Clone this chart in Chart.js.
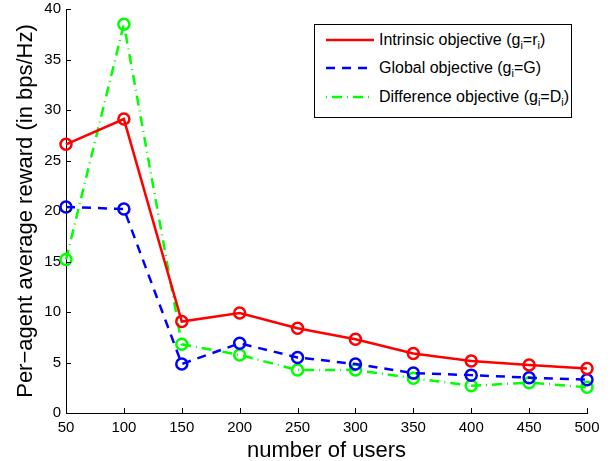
<!DOCTYPE html>
<html>
<head>
<meta charset="utf-8">
<script src="https://cdn.jsdelivr.net/npm/chart.js@4.4.1/dist/chart.umd.min.js"></script>
<style>
  html, body { margin: 0; padding: 0; background: #fff; }
  #wrap { position: relative; width: 613px; height: 461px; }
  #legend {
    position: absolute; left: 314px; top: 24px; width: 258px; height: 94px;
    border: 1px solid #000; background: #fff; box-sizing: border-box;
    font-family: "Liberation Sans", Arial, sans-serif; font-size: 16px; color: #000;
  }
  .row { position: absolute; left: 0; height: 20px; line-height: 20px; white-space: nowrap; }
  .row svg { position: absolute; left: 10px; top: 6px; }
  .row span { position: absolute; left: 64px; top: 0; }
  sub { font-size: 11px; vertical-align: -4px; line-height: 0; }
</style>
</head>
<body>
<div id="wrap">
  <canvas id="chart" width="613" height="461"></canvas>
  <div id="legend">
    <div class="row" style="top:5px">
      <svg width="50" height="8"><line x1="1" y1="4" x2="49" y2="4" stroke="#ff0000" stroke-width="2.5"/></svg>
      <span>Intrinsic objective (g<sub>i</sub>=r<sub>i</sub>)</span>
    </div>
    <div class="row" style="top:33px">
      <svg width="50" height="8"><line x1="1" y1="4" x2="49" y2="4" stroke="#0000ff" stroke-width="2.5" stroke-dasharray="9,7"/></svg>
      <span>Global objective (g<sub>i</sub>=G)</span>
    </div>
    <div class="row" style="top:62px">
      <svg width="50" height="8"><line x1="1" y1="4" x2="49" y2="4" stroke="#00ff00" stroke-width="2.5" stroke-dasharray="1,5,10,5"/></svg>
      <span>Difference objective (g<sub>i</sub>=D<sub>i</sub>)</span>
    </div>
  </div>
</div>
<script>
// number of users
const users = [50, 100, 150, 200, 250, 300, 350, 400, 450, 500];

// per-agent average reward (bps/Hz)
const intrinsicReward = [26.6, 29.1, 9.05, 9.9, 8.4, 7.3, 5.9, 5.15, 4.75, 4.4];
const globalReward = [20.4, 20.2, 4.85, 6.9, 5.5, 4.85, 3.95, 3.75, 3.5, 3.3];
const differenceReward = [15.2, 38.5, 6.8, 5.75, 4.25, 4.25, 3.45, 2.7, 3.0, 2.55];

const xTicks = [50, 100, 150, 200, 250, 300, 350, 400, 450, 500];
const yTicks = [0, 5, 10, 15, 20, 25, 30, 35, 40];

const FONT = '"Liberation Sans", Arial, sans-serif';

function toPoints(values) {
    return values.map((v, i) => ({ x: users[i], y: v }));
}

function seriesStyle(color, dash) {
    return {
        borderColor: color,
        backgroundColor: color,
        borderWidth: 2.5,
        borderDash: dash,
        pointRadius: 5.5,
        pointBorderWidth: 2.5,
        pointBorderColor: color,
        pointBackgroundColor: 'rgba(0,0,0,0)',
        tension: 0,
        clip: false
    };
}

// MATLAB style ticks pointing into the plot
const innerTicks = {
    id: 'innerTicks',
    afterDraw(chart) {
        const ctx = chart.ctx;
        const xs = chart.scales.x;
        const ys = chart.scales.y;
        const area = chart.chartArea;
        ctx.save();
        ctx.strokeStyle = '#000';
        ctx.lineWidth = 1;
        ctx.beginPath();
        xTicks.forEach(t => {
            const px = Math.round(xs.getPixelForValue(t)) + 0.5;
            ctx.moveTo(px, area.bottom);
            ctx.lineTo(px, area.bottom - 5);
        });
        yTicks.forEach(t => {
            const py = Math.round(ys.getPixelForValue(t)) + 0.5;
            ctx.moveTo(area.left, py);
            ctx.lineTo(area.left + 5, py);
        });
        ctx.stroke();
        ctx.restore();
    }
};

new Chart(document.getElementById('chart').getContext('2d'), {
    type: 'line',
    data: {
        datasets: [
            Object.assign({ label: 'Intrinsic objective', data: toPoints(intrinsicReward) }, seriesStyle('#ff0000', [])),
            Object.assign({ label: 'Global objective', data: toPoints(globalReward) }, seriesStyle('#0000ff', [9, 7])),
            Object.assign({ label: 'Difference objective', data: toPoints(differenceReward) }, seriesStyle('#00ff00', [10, 5, 1, 5]))
        ]
    },
    options: {
        responsive: false,
        animation: false,
        layout: { padding: { left: 0, right: 26, top: 9, bottom: 0 } },
        plugins: {
            legend: { display: false },
            tooltip: { enabled: false }
        },
        scales: {
            x: {
                type: 'linear',
                min: 50,
                max: 500,
                afterBuildTicks: s => { s.ticks = xTicks.map(v => ({ value: v })); },
                afterFit: s => { s.height = 48; s.paddingLeft = 0; s.paddingRight = 0; },
                grid: { display: false, drawTicks: false },
                border: { display: true, color: '#000', width: 1 },
                ticks: { color: '#000', font: { family: FONT, size: 15 }, padding: 6, maxRotation: 0 },
                title: { display: true, text: 'number of users', color: '#000', font: { family: FONT, size: 22 }, padding: { top: 0, bottom: -3 } }
            },
            y: {
                min: 0,
                max: 40,
                afterBuildTicks: s => { s.ticks = yTicks.map(v => ({ value: v })); },
                afterFit: s => { s.width = 66; s.paddingTop = 0; s.paddingBottom = 0; },
                grid: { display: false, drawTicks: false },
                border: { display: true, color: '#000', width: 1 },
                ticks: { color: '#000', font: { family: FONT, size: 15 }, padding: 5 },
                title: { display: true, text: 'Per\u2212agent average reward (in bps/Hz)', color: '#000', font: { family: FONT, size: 22 }, padding: { top: 13, bottom: 0 } }
            }
        }
    },
    plugins: [innerTicks]
});
</script>
</body>
</html>
